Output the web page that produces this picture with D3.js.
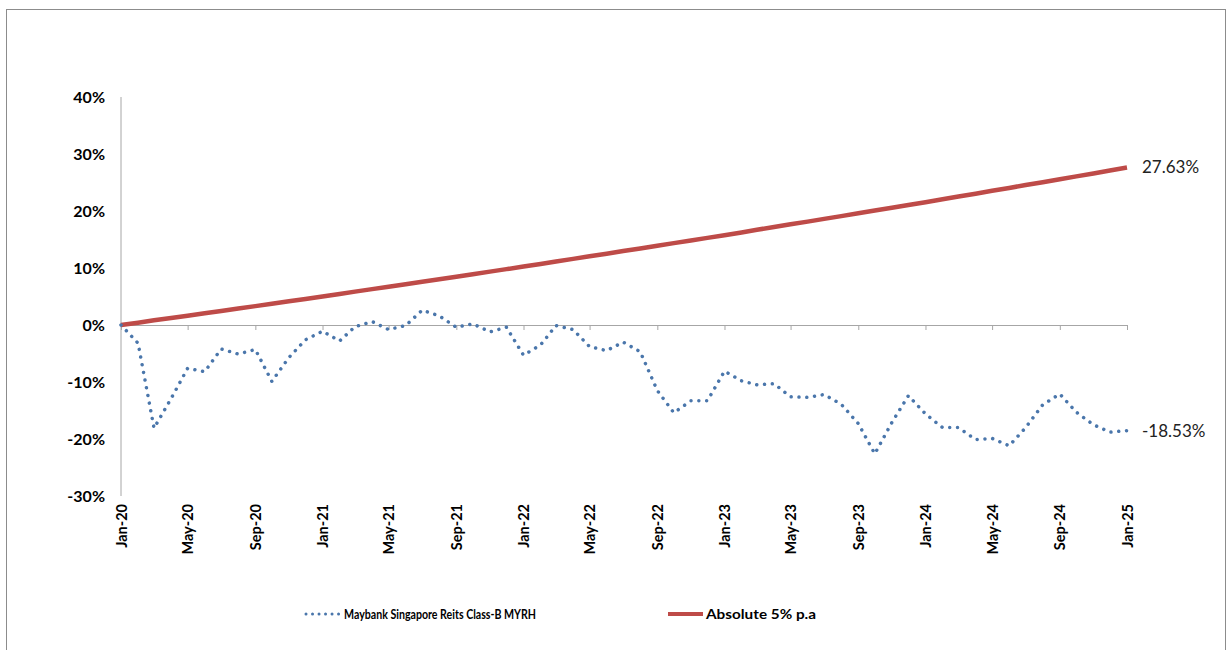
<!DOCTYPE html>
<html lang="en">
    <head>
        <meta charset="utf-8">
        <title>Maybank Singapore Reits vs Absolute 5%</title>
        <script src="https://d3js.org/d3.v7.min.js"></script>
        <style type="text/css">
            body {
                margin: 0;
                background: #fff;
            }
            .axis path,
            .axis line {
                stroke: #a6a6a6;
            }
            .axis text {
                font-family: Lato, 'Open Sans', sans-serif;
                font-weight: bold;
                fill: #000;
            }
            .endlabel {
                font-family: Lato, 'Open Sans', sans-serif;
                font-size: 17px;
                fill: #222;
            }
            .legend text {
                font-family: 'Liberation Sans Narrow', Lato, 'Open Sans', sans-serif;
                font-weight: bold;
                font-size: 14px;
                fill: #000;
            }
        </style>
    </head>
    <body>
        <script type="text/javascript">
            // series names
            const seriesNames = ["Maybank Singapore Reits Class-B MYRH", "Absolute 5% p.a"];

            // monthly returns in %, Jan-20 .. Jan-25
            const fundValues = [
                0, -3.2, -18.1, -12.9, -7.6, -8.2, -4.2, -5.1, -4.3, -9.9,
                -5.7, -2.6, -1.1, -2.8, -0.3, 0.6, -0.8, -0.1, 2.6, 1.6,
                -0.4, 0.2, -1.2, -0.4, -5.3, -3.5, -0.1, -0.8, -3.8, -4.5,
                -3.0, -4.7, -11.5, -15.4, -13.3, -13.3, -8.1, -9.8, -10.5, -10.3,
                -12.6, -12.7, -12.2, -13.9, -17.3, -22.6, -17.1, -12.4, -15.6, -18.0,
                -18.0, -20.1, -19.9, -21.2, -18.0, -14.0, -12.1, -15.3, -17.5, -18.8,
                -18.53
            ];
            const benchValues = [
                0, 0.41, 0.82, 1.23, 1.64, 2.05, 2.47, 2.89, 3.31, 3.73,
                4.15, 4.57, 5.00, 5.43, 5.86, 6.29, 6.72, 7.16, 7.59, 8.03,
                8.47, 8.91, 9.36, 9.80, 10.25, 10.70, 11.15, 11.60, 12.06, 12.51,
                12.97, 13.43, 13.90, 14.36, 14.82, 15.29, 15.76, 16.23, 16.71, 17.18,
                17.66, 18.14, 18.62, 19.10, 19.59, 20.08, 20.57, 21.06, 21.55, 22.05,
                22.54, 23.04, 23.54, 24.05, 24.55, 25.06, 25.57, 26.08, 26.59, 27.11,
                27.63
            ];
            const yTicks = [-30, -20, -10, 0, 10, 20, 30, 40];
            const xTickLabels = ["Jan-20", "May-20", "Sep-20", "Jan-21", "May-21", "Sep-21", "Jan-22", "May-22",
                                 "Sep-22", "Jan-23", "May-23", "Sep-23", "Jan-24", "May-24", "Sep-24", "Jan-25"];
            const endLabels = ["-18.53%", "27.63%"];

            const w = 1228;
            const h = 650;

            const parseMonth = d3.timeParse("%b-%y");
            const start = parseMonth(xTickLabels[0]);
            const months = fundValues.map((v, i) => d3.timeMonth.offset(start, i));

            const xScale = d3.scaleTime()
                             .domain([months[0], months[months.length - 1]])
                             .range([121, 1127]);

            const yScale = d3.scaleLinear()
                             .domain([-30, 40])
                             .range([496, 97]);

            const svg = d3.select("body").append("svg")
                          .attr("width", w)
                          .attr("height", h);

            // outer frame
            svg.append("rect")
               .attr("x", 6.5)
               .attr("y", 9.5)
               .attr("width", 1219)
               .attr("height", 660)
               .attr("fill", "none")
               .attr("stroke", "#8c8c8c")
               .attr("stroke-width", 1);

            // left axis
            const leftAxis = d3.axisLeft(yScale)
                               .tickValues(yTicks)
                               .tickSize(0)
                               .tickPadding(16)
                               .tickFormat(d => d + "%");
            svg.append("g")
               .attr("class", "axis")
               .attr("transform", "translate(121, 0)")
               .call(leftAxis)
               .call(g => g.select(".domain").attr("d", `M0,${yScale(40)}V${yScale(-30)}`))
               .selectAll("text")
               .style("font-size", "16px");

            // bottom axis through 0%, labels down at the bottom
            const tickDates = xTickLabels.map(parseMonth);
            const bottomAxis = d3.axisBottom(xScale)
                                 .tickValues(tickDates)
                                 .tickSize(5)
                                 .tickSizeOuter(0)
                                 .tickFormat(d3.timeFormat("%b-%y"));
            const xg = svg.append("g")
               .attr("class", "axis")
               .attr("transform", `translate(0, ${yScale(0)})`)
               .call(bottomAxis);
            xg.selectAll("text")
              .style("font-size", "14.5px")
              .attr("transform", "rotate(-90)")
              .attr("text-anchor", "end")
              .attr("x", -(504 - yScale(0)))
              .attr("y", 0)
              .attr("dy", "0.35em");

            const line = d3.line()
                           .x((d, i) => xScale(months[i]))
                           .y(d => yScale(d));

            // benchmark
            svg.append("path")
               .datum(benchValues)
               .attr("fill", "none")
               .attr("stroke", "#be4b48")
               .attr("stroke-width", 4.5)
               .attr("d", line);

            // fund, round dotted
            svg.append("path")
               .datum(fundValues)
               .attr("fill", "none")
               .attr("stroke", "#4a76ab")
               .attr("stroke-width", 3.5)
               .attr("stroke-linecap", "round")
               .attr("stroke-dasharray", "0.01 7.8")
               .attr("d", line);

            // end labels
            const last = fundValues.length - 1;
            svg.append("text")
               .attr("class", "endlabel")
               .attr("x", 1142)
               .attr("y", yScale(fundValues[last]))
               .attr("dy", "0.35em")
               .text(endLabels[0]);
            svg.append("text")
               .attr("class", "endlabel")
               .attr("x", 1142)
               .attr("y", yScale(benchValues[last]))
               .attr("dy", "0.35em")
               .text(endLabels[1]);

            // legend
            const legend = svg.append("g").attr("class", "legend");
            const legendItems = [
                {x: 306, name: seriesNames[0], width: 192, dotted: true},
                {x: 668, name: seriesNames[1], width: 110, dotted: false}
            ];
            legendItems.forEach(item => {
                const seg = legend.append("line")
                      .attr("x1", item.x)
                      .attr("x2", item.x + 35)
                      .attr("y1", 614)
                      .attr("y2", 614);
                if (item.dotted) {
                    seg.attr("stroke", "#4a76ab")
                       .attr("stroke-width", 3)
                       .attr("stroke-linecap", "round")
                       .attr("stroke-dasharray", "0.01 6.5");
                } else {
                    seg.attr("stroke", "#be4b48")
                       .attr("stroke-width", 4);
                }
                legend.append("text")
                      .attr("x", item.x + 38)
                      .attr("y", 614)
                      .attr("dy", "0.35em")
                      .attr("textLength", item.width)
                      .attr("lengthAdjust", "spacingAndGlyphs")
                      .text(item.name);
            });
        </script>
    </body>
</html>
